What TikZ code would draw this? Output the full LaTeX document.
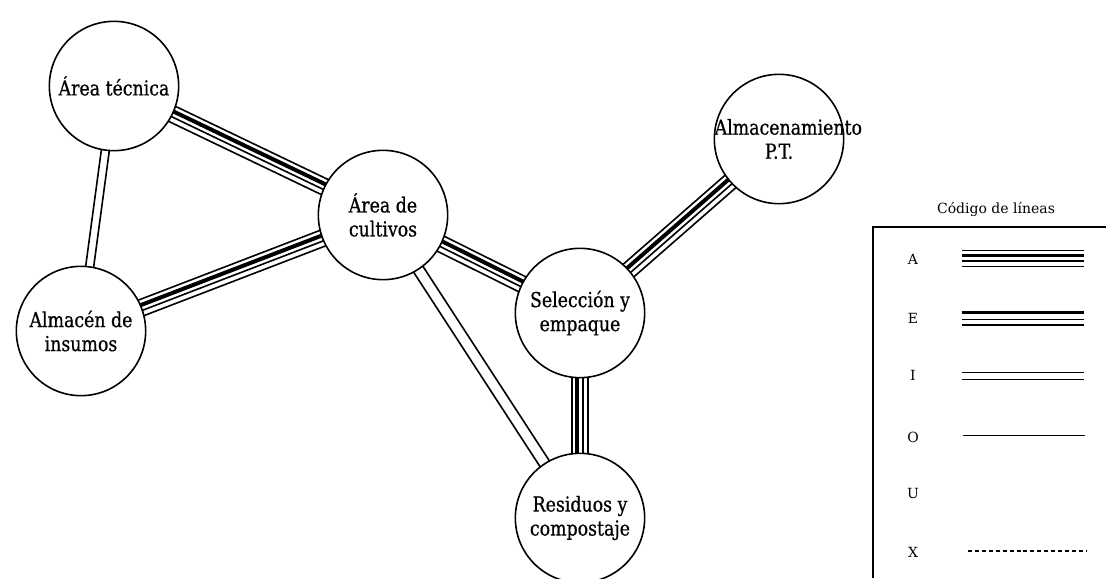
\documentclass[tikz,border=0pt]{standalone}
\usepackage{fontspec}
\setmainfont{DejaVu Serif}
\newfontfamily\nodefont{DejaVu Serif}[FakeStretch=0.84, FakeBold=0.6]
\usetikzlibrary{calc}
\pgfdeclarelayer{bg}
\pgfsetlayers{bg,main}
\tikzset{
  area/.style={circle, draw, line width=1.2pt, fill=white, minimum size=97pt, inner sep=0pt,
               align=center, font=\nodefont\fontsize{15.5}{18}\selectfont},
  legtxt/.style={font=\fontsize{10.5}{12}\selectfont},
}
% A-type relation: thin, thick, thin, thin
\newcommand{\relA}[2]{%
  \foreach \o/\w in {8.25/1.2, 2.75/3, -2.75/1.2, -8.25/1.2}
    \draw[line width=\w pt] ($(#1)!\o*0.75pt!90:(#2)$) -- ($(#2)!\o*0.75pt!-90:(#1)$);
}
% I-type relation: two thin lines
\newcommand{\relI}[3]{%
  \foreach \o in {#3, -#3}
    \draw[line width=1.2pt] ($(#1)!\o*0.75pt!90:(#2)$) -- ($(#2)!\o*0.75pt!-90:(#1)$);
}
\begin{document}
\begin{tikzpicture}[x=0.75pt, y=-0.75pt]
\useasboundingbox (0,0) rectangle (1106,578);

\node[area] (tec) at (114,86) {Área técnica};
\node[area] (cul) at (383,215) {Área de\\cultivos};
\node[area] (alm) at (81,331) {Almacén de\\insumos};
\node[area] (pt)  at (779,139) {\makebox[0pt]{\hspace{14pt}Almacenamiento}\\P.T.};
\node[area] (sel) at (580,313) {Selección y\\empaque};
\node[area] (res) at (580,518) {Residuos y\\compostaje};

\begin{pgfonlayer}{bg}
  \fill[white] (0,0) rectangle (1106,578);
  \relA{tec}{cul}
  \relA{alm}{cul}
  \relA{cul}{sel}
  \relA{sel}{pt}
  \relA{res}{sel}
  \relI{tec}{alm}{4}
  \relI{cul}{res}{5.5}
\end{pgfonlayer}

% legend
\node[legtxt] (legtitle) at (996,209) {Código de líneas};
\draw[line width=1.2pt] (1106,227) -- (873,227) -- (873,578);
\node[legtxt] (lA) at (913,259) {A};
\node[legtxt] (lE) at (913,318) {E};
\node[legtxt] (lI) at (913,375) {I};
\node[legtxt] (lO) at (913,437) {O};
\node[legtxt] (lU) at (913,493) {U};
\node[legtxt] (lX) at (913,552) {X};
% A
\draw[line width=1pt] (962,250.7) -- (1084,250.7);
\draw[line width=2.6pt] (962,255.7) -- (1084,255.7);
\draw[line width=1pt] (962,261) -- (1084,261);
\draw[line width=1pt] (962,266.7) -- (1084,266.7);
% E
\draw[line width=2.6pt] (962,312.7) -- (1084,312.7);
\draw[line width=1pt] (962,319.3) -- (1084,319.3);
\draw[line width=1pt] (962,325) -- (1084,325);
% I
\draw[line width=1pt] (962,372.7) -- (1084,372.7);
\draw[line width=1pt] (962,379.3) -- (1084,379.3);
% O
\draw[line width=1pt] (963,435.7) -- (1085,435.7);
% X
\draw[line width=0.8pt, dash pattern=on 3pt off 2.2pt] (968,551) -- (1087,551);
\end{tikzpicture}
\end{document}
